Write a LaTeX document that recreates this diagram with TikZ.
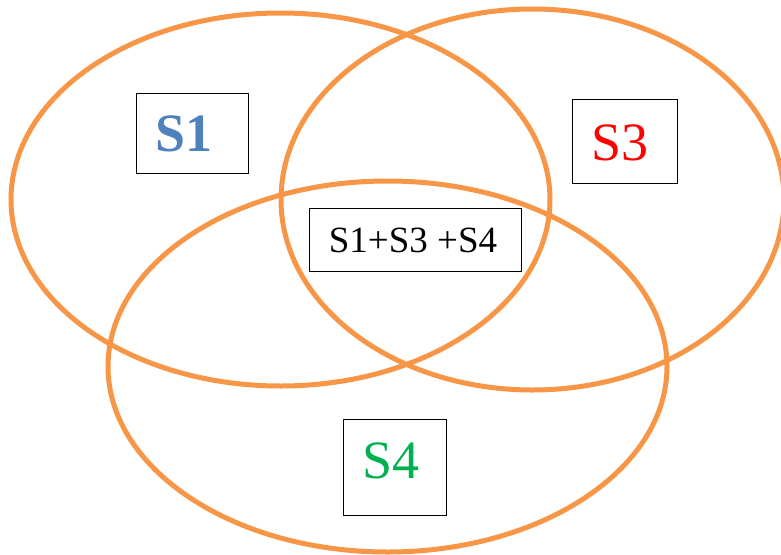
\documentclass[tikz,border=0pt]{standalone}
\usepackage{fontspec}
\setmainfont{Liberation Serif}
\definecolor{vorange}{HTML}{F79646}
\definecolor{sblue}{HTML}{4F81BD}
\definecolor{sred}{HTML}{FF0000}
\definecolor{sgreen}{HTML}{00B050}
\begin{document}
\begin{tikzpicture}[x=1pt,y=-1pt,
  venn/.style={draw=vorange,line width=5pt},
  lbox/.style={draw=black,line width=1pt,rectangle,inner sep=0pt,align=center}]
\useasboundingbox (0,0) rectangle (781,554);
\clip (0,0) rectangle (781,554);
\coordinate (e1) at (280.5,199.5);
\coordinate (e2) at (532.5,199.5);
\coordinate (e3) at (387.5,366.5);
\draw[venn] (e1) ellipse [x radius=269.5, y radius=186.5];
\draw[venn] (e2) ellipse [x radius=251.5, y radius=190.5];
\draw[venn] (e3) ellipse [x radius=279.5, y radius=185.5];
\node[lbox,minimum width=112pt,minimum height=80pt] (s1) at (192,133) {};
\node[text=sblue,font=\fontsize{54}{54}\selectfont\bfseries] (s1t) at (184,134) {S1};
\node[lbox,minimum width=105pt,minimum height=84pt] (s3) at (624.5,141) {};
\node[text=sred,font=\fontsize{54}{54}\selectfont] (s3t) at (620,143) {S3};
\node[lbox,minimum width=212pt,minimum height=63pt] (s134) at (415,239.5) {};
\node[text=black,font=\fontsize{37}{37}\selectfont] (s134t) at (413,240) {S1+S3 +S4};
\node[lbox,minimum width=103pt,minimum height=96pt] (s4) at (394.5,467) {};
\node[text=sgreen,font=\fontsize{54}{54}\selectfont] (s4t) at (391,461) {S4};
\end{tikzpicture}
\end{document}
